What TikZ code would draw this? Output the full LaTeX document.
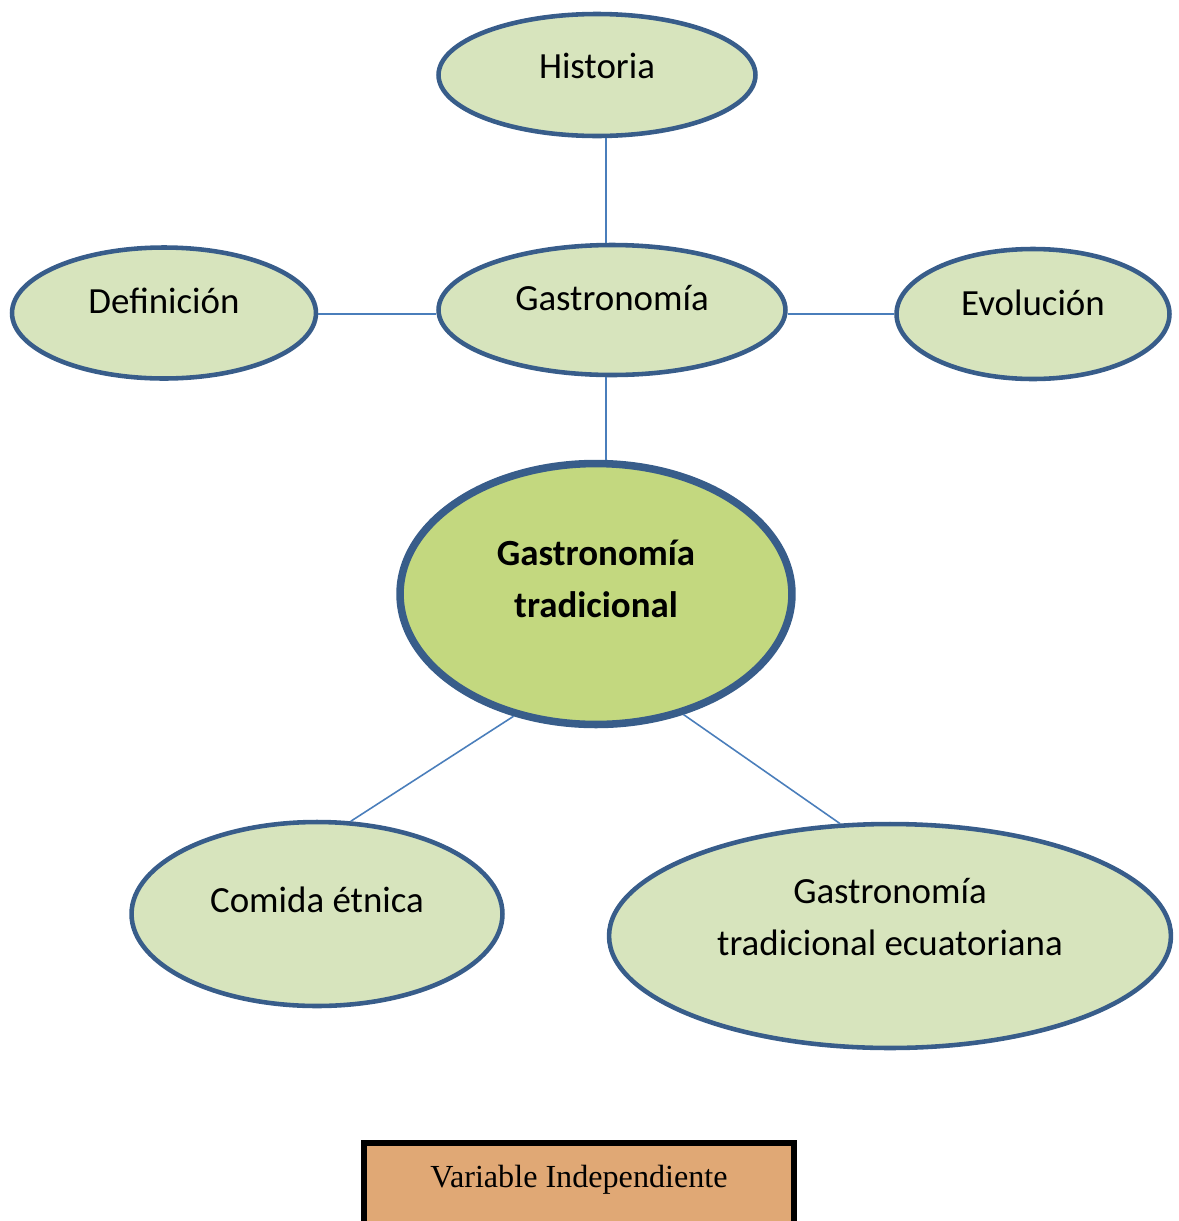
\documentclass[tikz,border=0pt]{standalone}
\usepackage{fontspec}
\setmainfont{Carlito}
\newfontfamily\timesfont{Liberation Serif}
\usetikzlibrary{shapes.geometric, positioning, calc}
\definecolor{bordercol}{RGB}{56,93,138}
\definecolor{linkcol}{RGB}{74,126,187}
\definecolor{leafcol}{RGB}{215,228,189}
\definecolor{corecol}{RGB}{195,216,127}
\definecolor{boxcol}{RGB}{224,168,117}

\begin{document}
\begin{tikzpicture}[
			x=0.02cm,
			y=-0.02cm,
			topic/.style={
				ellipse,
				draw=bordercol,
				line width=2.6pt,
				fill=leafcol,
				inner sep=0pt
			},
			core/.style={
				topic,
				line width=4.3pt,
				fill=corecol
			},
			lbl/.style={
				font=\fontsize{21}{30}\selectfont,
				align=center
			},
			link/.style={
				draw=linkcol,
				line width=0.9pt
			}
			]
			\useasboundingbox (0,0) rectangle (1179,1221);
			% Ellipses
			\node[topic, minimum width=6.34cm, minimum height=2.44cm,
				label={[lbl, yshift=0.18cm]center:Historia}] (hist) at (597,75) {};
			\node[topic, minimum width=6.94cm, minimum height=2.6cm,
				label={[lbl, yshift=0.24cm]center:Gastronomía}] (gast) at (612,310) {};
			\node[topic, minimum width=6.08cm, minimum height=2.62cm,
				label={[lbl, yshift=0.24cm]center:Definición}] (defi) at (164,313) {};
			\node[topic, minimum width=5.46cm, minimum height=2.6cm,
				label={[lbl, yshift=0.22cm]center:Evolución}] (evol) at (1033,314) {};
			\node[core, minimum width=7.84cm, minimum height=5.22cm,
				label={[lbl, yshift=0.3cm, font=\fontsize{21}{30}\selectfont\bfseries]center:Gastronomía\\tradicional}] (trad) at (596,594) {};
			\node[topic, minimum width=7.42cm, minimum height=3.68cm,
				label={[lbl, yshift=0.28cm]center:Comida étnica}] (etni) at (317,914) {};
			\node[topic, minimum width=11.24cm, minimum height=4.48cm,
				label={[lbl, yshift=0.38cm]center:Gastronomía\\tradicional ecuatoriana}] (ecua) at (890,936) {};
			
			% Caption box
			\node[draw=black, line width=3.4pt, fill=boxcol, anchor=north,
				minimum width=8.6cm, inner ysep=0pt, text height=0.9cm, text depth=1cm,
				font=\timesfont\fontsize{18.3}{22}\selectfont] (var) at (579,1140) {Variable Independiente};
			
			% Connectors
			\draw[link] ([xshift=0.18cm]hist.south) -- ([xshift=0.18cm]hist.south |- gast.north);
			\draw[link] (evol.west -| defi.east) -- (evol.west -| gast.west);
			\draw[link] (evol.west -| gast.east) -- (evol.west);
			\draw[link] ([xshift=-0.12cm]gast.south) -- ([xshift=-0.12cm]gast.south |- trad.north);
			\draw[link] (trad.236) -- (etni.70);
			\draw[link] (trad.-54) -- (ecua.114);
		\end{tikzpicture}
\end{document}
